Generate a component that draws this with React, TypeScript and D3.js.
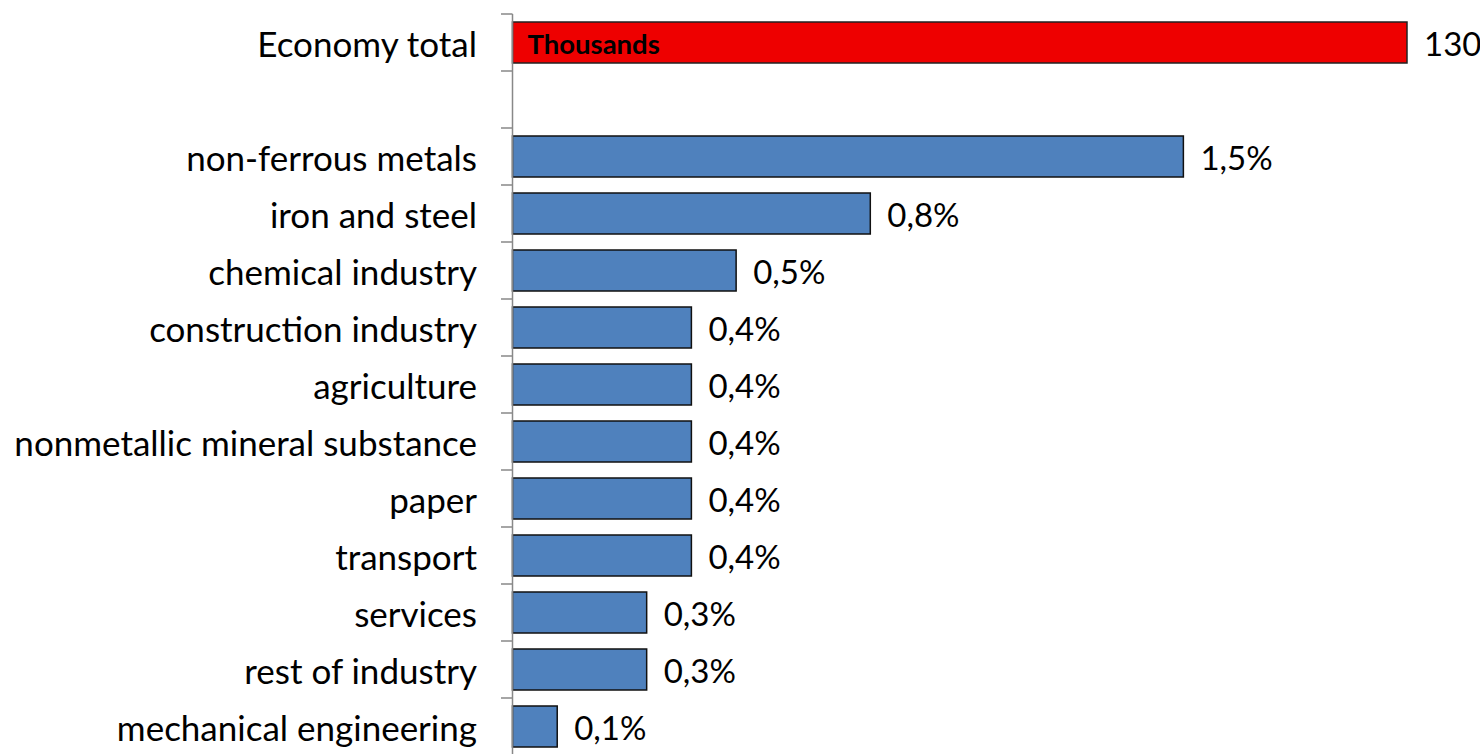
import React from "react";
import * as d3 from "d3";

const categories = [
  "non-ferrous metals",
  "iron and steel",
  "chemical industry",
  "construction industry",
  "agriculture",
  "nonmetallic mineral substance",
  "paper",
  "transport",
  "services",
  "rest of industry",
  "mechanical engineering",
];
const shares = [1.5, 0.8, 0.5, 0.4, 0.4, 0.4, 0.4, 0.4, 0.3, 0.3, 0.1];
const totalLabel = "Economy total";
const totalValue = 130;
const totalUnit = "Thousands";

const W = 1480;
const H = 754;
const FONT = "Lato, 'Open Sans', sans-serif";

export default function App() {
  const rows = [totalLabel, "__blank__", ...categories];
  const y = d3.scaleBand<string>().domain(rows).range([14, 14 + rows.length * 57]).paddingInner(16 / 57).paddingOuter(8 / 57);
  const x = d3.scaleLinear().domain([0, 2.0]).range([512.5, 1407]);
  const xTotal = d3.scaleLinear().domain([0, totalValue]).range(x.range());
  const fmt = (v: number) => d3.format(".1f")(v).replace(".", ",") + "%";
  const step = y.step();
  const bw = y.bandwidth();
  const bandTop = (k: string) => (y(k) as number) - (step - bw) / 2;
  const ticks = rows.map((r) => bandTop(r)).concat([bandTop(rows[rows.length - 1]) + step]);

  return (
    <svg width={W} height={H} style={{ position: "absolute", left: 0, top: 0, background: "#fff" }} fontFamily={FONT}>
      {/* total bar */}
      <rect x={x(0)} y={y(totalLabel)} width={xTotal(totalValue) - xTotal(0)} height={bw} fill="#EE0000" stroke="#222" strokeWidth={1.5} />
      <text x={x(0) + 15} y={(y(totalLabel) as number) + bw / 2} dy="0.4em" fontSize={27.5} fontWeight={700} fill="#000">{totalUnit}</text>
      <text x={xTotal(totalValue) + 17} y={(y(totalLabel) as number) + bw / 2} dy="0.4em" fontSize={33} fill="#000">{totalValue}</text>
      <text x={477} y={(y(totalLabel) as number) + bw / 2} dy="0.4em" fontSize={35} textAnchor="end" fill="#000">{totalLabel}</text>
      {categories.map((c, i) => {
        const yy = y(c) as number;
        return (
          <g key={c}>
            <rect x={x(0)} y={yy} width={x(shares[i]) - x(0)} height={bw} fill="#4F81BD" stroke="#111" strokeWidth={1.5} />
            <text x={x(shares[i]) + 17} y={yy + bw / 2} dy="0.4em" fontSize={33} fill="#000">{fmt(shares[i])}</text>
            <text x={477} y={yy + bw / 2} dy="0.4em" fontSize={35} textAnchor="end" fill="#000">{c}</text>
          </g>
        );
      })}
      {/* axis */}
      <line x1={512.5} x2={512.5} y1={ticks[0]} y2={ticks[ticks.length - 1]} stroke="#888" strokeWidth={1.5} />
      {ticks.map((t, i) => (
        <line key={i} x1={501} x2={512.5} y1={t} y2={t} stroke="#888" strokeWidth={1.5} />
      ))}
    </svg>
  );
}
